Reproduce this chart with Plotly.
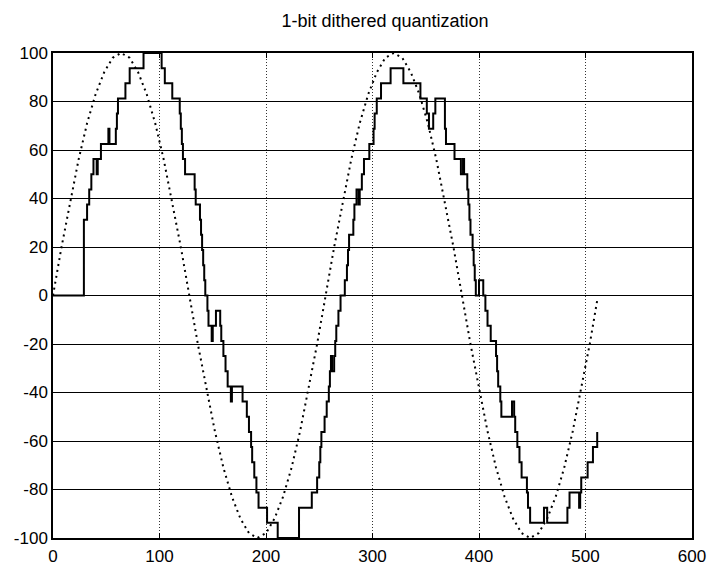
import plotly.graph_objects as go

# Reference sine (dotted), sampled every 8 points
sine_x = [0, 8, 16, 24, 32, 40, 48, 56, 64, 72, 80, 88, 96, 104, 112, 120,
          128, 136, 144, 152, 160, 168, 176, 184, 192, 200, 208, 216, 224, 232, 240, 248,
          256, 264, 272, 280, 288, 296, 304, 312, 320, 328, 336, 344, 352, 360, 368, 376,
          384, 392, 400, 408, 416, 424, 432, 440, 448, 456, 464, 472, 480, 488, 496, 504, 511]
sine_y = [0, 20, 38, 56, 71, 83, 92, 98, 100, 98, 92, 83, 71, 56, 38, 20,
          0, -20, -38, -56, -71, -83, -92, -98, -100, -98, -92, -83, -71, -56, -38, -20,
          0, 20, 38, 56, 71, 83, 92, 98, 100, 98, 92, 83, 71, 56, 38, 20,
          0, -20, -38, -56, -71, -83, -92, -98, -100, -98, -92, -83, -71, -56, -38, -20, -2]

# Averaged 1-bit dithered output: sample index where each level starts, and the level
step_x = [0, 29, 32, 34, 36, 38, 41, 42, 45, 52, 53, 59, 60, 61, 68, 72, 85,
          102, 105, 112, 119, 120, 121, 122, 124, 133, 134, 138, 139, 140, 141, 142, 143,
          145, 146, 149, 150, 153, 157, 158, 160, 162, 164, 167, 168, 178, 182, 184, 186,
          187, 189, 191, 193, 201, 211, 231, 243, 248, 250, 251, 252, 255, 257, 259, 260,
          261, 262, 264, 265, 266, 268, 270, 272, 274, 276, 277, 278, 282, 283, 285, 287,
          288, 290, 292, 297, 301, 302, 304, 308, 317, 329, 345, 351, 353, 357, 359, 368,
          369, 377, 383, 385, 386, 389, 390, 391, 392, 394, 395, 396, 397, 400,
          404, 406, 408, 411, 416, 417, 418, 420, 421, 431, 433, 434, 436, 438, 440, 445,
          446, 448, 461, 464, 483, 485, 494, 495, 496, 502, 507, 511]
step_y = [0, 31.25, 37.5, 43.75, 50, 56.25, 50, 56.25, 62.5, 68.75, 62.5, 68.75, 75, 81.25, 87.5, 93.75, 100,
          93.75, 87.5, 81.25, 75, 68.75, 62.5, 56.25, 50, 43.75, 37.5, 31.25, 25, 18.75, 12.5, 6.25, 0,
          -6.25, -12.5, -18.75, -12.5, -6.25, -12.5, -18.75, -25, -31.25, -37.5, -43.75, -37.5, -43.75, -50, -56.25, -62.5,
          -68.75, -75, -81.25, -87.5, -93.75, -100, -87.5, -81.25, -75, -68.75, -62.5, -56.25, -50, -43.75, -37.5, -31.25,
          -25, -31.25, -25, -18.75, -12.5, -6.25, 0, 0, 6.25, 12.5, 18.75, 25, 31.25, 37.5, 43.75, 37.5,
          43.75, 50, 56.25, 62.5, 68.75, 75, 81.25, 87.5, 93.75, 87.5, 81.25, 75, 68.75, 75, 81.25, 68.75,
          62.5, 56.25, 50, 56.25, 50, 43.75, 37.5, 31.25, 25, 18.75, 12.5, 6.25, 0, 6.25,
          0, -6.25, -12.5, -18.75, -25, -31.25, -37.5, -43.75, -50, -43.75, -50, -56.25, -62.5, -68.75, -75, -81.25,
          -87.5, -93.75, -87.5, -93.75, -87.5, -81.25, -87.5, -81.25, -75, -68.75, -62.5, -56.25]

x_ticks = [0, 100, 200, 300, 400, 500, 600]
y_ticks = [-100, -80, -60, -40, -20, 0, 20, 40, 60, 80, 100]

FONT = "Liberation Sans, Arial, sans-serif"

fig = go.Figure()
fig.add_trace(go.Scatter(
    x=sine_x, y=sine_y, mode="lines",
    line=dict(color="black", width=2, dash="2px,4px"),
    hoverinfo="skip", showlegend=False,
))
fig.add_trace(go.Scatter(
    x=step_x, y=step_y, mode="lines",
    line=dict(color="black", width=2, shape="hv"),
    hoverinfo="skip", showlegend=False,
))

fig.update_layout(
    width=709, height=566,
    margin=dict(l=53, r=17, t=53, b=28, autoexpand=False),
    paper_bgcolor="white", plot_bgcolor="white",
    font=dict(family=FONT, size=17, color="black"),
    title=dict(text="1-bit dithered quantization", x=385 / 709, xref="container",
               xanchor="center", y=1 - 21 / 566, yref="container", yanchor="middle",
               font=dict(family=FONT, size=18, color="black")),
)
fig.update_xaxes(
    range=[0, 600], tickvals=x_ticks, ticktext=[str(v) for v in x_ticks],
    showgrid=True, gridcolor="#333", gridwidth=1, griddash="1px,2px",
    showline=True, linecolor="black", linewidth=1.5, mirror="ticks",
    ticks="inside", ticklen=5, tickcolor="black", zeroline=False,
    ticklabelstandoff=2, automargin=False,
)
fig.update_yaxes(
    range=[-100, 100], tickvals=y_ticks, ticktext=[str(v) for v in y_ticks],
    showgrid=True, gridcolor="black", gridwidth=1.3,
    showline=True, linecolor="black", linewidth=1.5, mirror="ticks",
    ticks="inside", ticklen=5, tickcolor="black", zeroline=False,
    ticklabelstandoff=0, automargin=False,
)

fig.write_html("out.html")
